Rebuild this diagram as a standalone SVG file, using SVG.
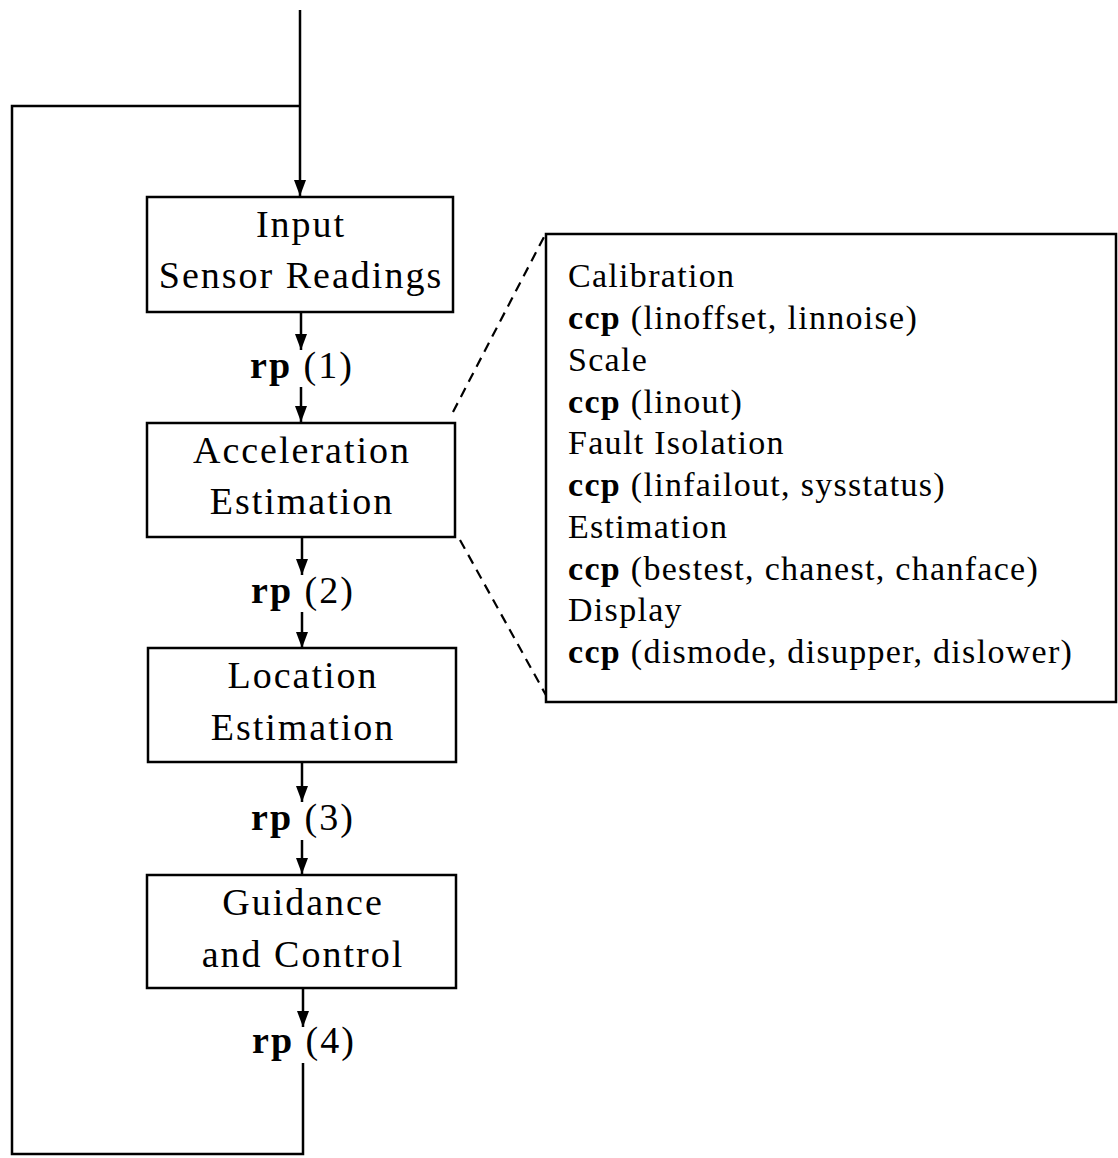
<svg xmlns="http://www.w3.org/2000/svg" width="1118" height="1158" viewBox="0 0 1118 1158">
<style>
.box{fill:#fff;stroke:#000;stroke-width:2.5}
.ln{fill:none;stroke:#000;stroke-width:2.5}
.dash{fill:none;stroke:#000;stroke-width:2.2;stroke-dasharray:10,7}
.t{font-family:"Liberation Serif","Times New Roman",serif;font-size:38px;letter-spacing:2px;fill:#000;text-anchor:middle}
.d{font-family:"Liberation Serif","Times New Roman",serif;font-size:34px;letter-spacing:1.3px;fill:#000}
.b{font-weight:bold}
</style>
<defs>
<marker id="ah" markerWidth="16" markerHeight="12" refX="16" refY="6" orient="auto" markerUnits="userSpaceOnUse" viewBox="0 0 16 12">
<path d="M0,0 L16,6 L0,12 Z" fill="#000"/>
</marker>
</defs>
<g id="connectors">
<path class="ln" d="M300,10 L300,106" />
<path class="ln" d="M300,106 L300,196" marker-end="url(#ah)" />
<path class="ln" d="M300,106 L12,106 L12,1154 L303,1154 L303,1063" />
<path class="ln" d="M301,312 L301,350" marker-end="url(#ah)" />
<path class="ln" d="M301,387 L301,422" marker-end="url(#ah)" />
<path class="ln" d="M302,537 L302,575" marker-end="url(#ah)" />
<path class="ln" d="M302,612 L302,648" marker-end="url(#ah)" />
<path class="ln" d="M302,762 L302,802" marker-end="url(#ah)" />
<path class="ln" d="M302,840 L302,874" marker-end="url(#ah)" />
<path class="ln" d="M303,988 L303,1027" marker-end="url(#ah)" />
<path class="dash" d="M453,412 L545,235" />
<path class="dash" d="M460,540 L547,697" />
</g>
<g id="rp1"><text class="t" x="302" y="378"><tspan class="b">rp</tspan> (1)</text></g>
<g id="rp2"><text class="t" x="303" y="603"><tspan class="b">rp</tspan> (2)</text></g>
<g id="rp3"><text class="t" x="303" y="830"><tspan class="b">rp</tspan> (3)</text></g>
<g id="rp4"><text class="t" x="304" y="1053"><tspan class="b">rp</tspan> (4)</text></g>
<g id="input">
<rect class="box" x="147" y="197" width="306" height="115"/>
<text class="t" x="301" y="237">Input</text>
<text class="t" x="301" y="288">Sensor Readings</text>
</g>
<g id="accel">
<rect class="box" x="147" y="423" width="308" height="114"/>
<text class="t" x="302" y="463">Acceleration</text>
<text class="t" x="302" y="514">Estimation</text>
</g>
<g id="location">
<rect class="box" x="148" y="648" width="308" height="114"/>
<text class="t" x="303" y="688">Location</text>
<text class="t" x="303" y="740">Estimation</text>
</g>
<g id="guidance">
<rect class="box" x="147" y="875" width="309" height="113"/>
<text class="t" x="303" y="915">Guidance</text>
<text class="t" x="303" y="967">and Control</text>
</g>
<g id="detail">
<rect class="box" x="546" y="234" width="570" height="468"/>
<text class="d" x="568" y="287">Calibration</text>
<text class="d" x="568" y="329"><tspan class="b">ccp</tspan> (linoffset, linnoise)</text>
<text class="d" x="568" y="371">Scale</text>
<text class="d" x="568" y="413"><tspan class="b">ccp</tspan> (linout)</text>
<text class="d" x="568" y="454">Fault Isolation</text>
<text class="d" x="568" y="496"><tspan class="b">ccp</tspan> (linfailout, sysstatus)</text>
<text class="d" x="568" y="538">Estimation</text>
<text class="d" x="568" y="580"><tspan class="b">ccp</tspan> (bestest, chanest, chanface)</text>
<text class="d" x="568" y="621">Display</text>
<text class="d" x="568" y="663"><tspan class="b">ccp</tspan> (dismode, disupper, dislower)</text>
</g>
</svg>
